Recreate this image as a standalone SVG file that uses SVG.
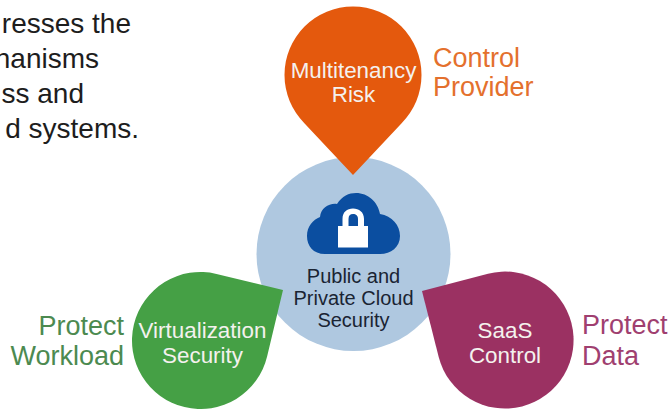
<svg xmlns="http://www.w3.org/2000/svg" width="671" height="409" viewBox="0 0 671 409">
<style>
text{font-family:"Liberation Sans",Arial,sans-serif}
.body{font-size:28px;fill:#1d1d1d;text-anchor:end}
.in{font-size:22.4px;fill:#f4f1ee;text-anchor:middle}
.side{font-size:27px}
.hub{font-size:20px;fill:#1a2433;text-anchor:middle}
</style>
<rect width="671" height="409" fill="#fff"/>
<g id="intro-text">
<text class="body" x="131" y="33">resses the</text>
<text class="body" x="99" y="68">hanisms</text>
<text class="body" x="84" y="103">ss and</text>
<text class="body" x="139" y="138">d systems.</text>
</g>
<g id="connectors"></g>
<g id="hub">
<circle cx="353.5" cy="254" r="97" fill="#afc8e0"/>
<path d="M325 254C313 254 307 246 307 236C307 226 313 220 320 217C321 208 329 203 337 204C342 196 349 193 356 193C368 193 378 202 380 214C392 216 400 225 400 236C400 247 391 254 380 254Z" fill="#0b4ea0"/>
<path fill-rule="evenodd" d="M338 226H342.500V219C342.500 212 347 208.500 353 208.500C359 208.500 364 212 364 219V226H368V247.500H338ZM348.500 226H358V219C358 215.500 356 214 353 214C350 214 348.500 215.500 348.500 219Z" fill="#fff"/>
<text class="hub" x="353.500" y="283">Public and</text>
<text class="hub" x="353.500" y="305">Private Cloud</text>
<text class="hub" x="353.500" y="327">Security</text>
</g>
<g id="multitenancy-risk">
<path d="M353 175L304.600 123.400A68.500 68.500 0 1 1 401.400 123.400Z" fill="#e4590d"/>
<text class="in" x="353.500" y="78">Multitenancy</text>
<text class="in" x="353.500" y="102">Risk</text>
<text class="side" x="433" y="67" fill="#e4702d">Control</text>
<text class="side" x="433" y="96" fill="#e4702d">Provider</text>
</g>
<g id="virtualization-security">
<path d="M283 290L267.100 356.500A68.500 68.500 0 1 1 216.500 273.900Z" fill="#45a045"/>
<text class="in" x="202.500" y="338">Virtualization</text>
<text class="in" x="202.500" y="363">Security</text>
<text class="side" x="124" y="335" fill="#4c8a50" text-anchor="end">Protect</text>
<text class="side" x="124" y="365" fill="#4c8a50" text-anchor="end">Workload</text>
</g>
<g id="saas-control">
<path d="M422 291L488 273.700A68.500 68.500 0 1 1 438.700 357Z" fill="#9b3162"/>
<text class="in" x="505" y="338">SaaS</text>
<text class="in" x="505" y="363">Control</text>
<text class="side" x="582" y="334" fill="#a03f70">Protect</text>
<text class="side" x="582" y="365" fill="#a03f70">Data</text>
</g>
</svg>
